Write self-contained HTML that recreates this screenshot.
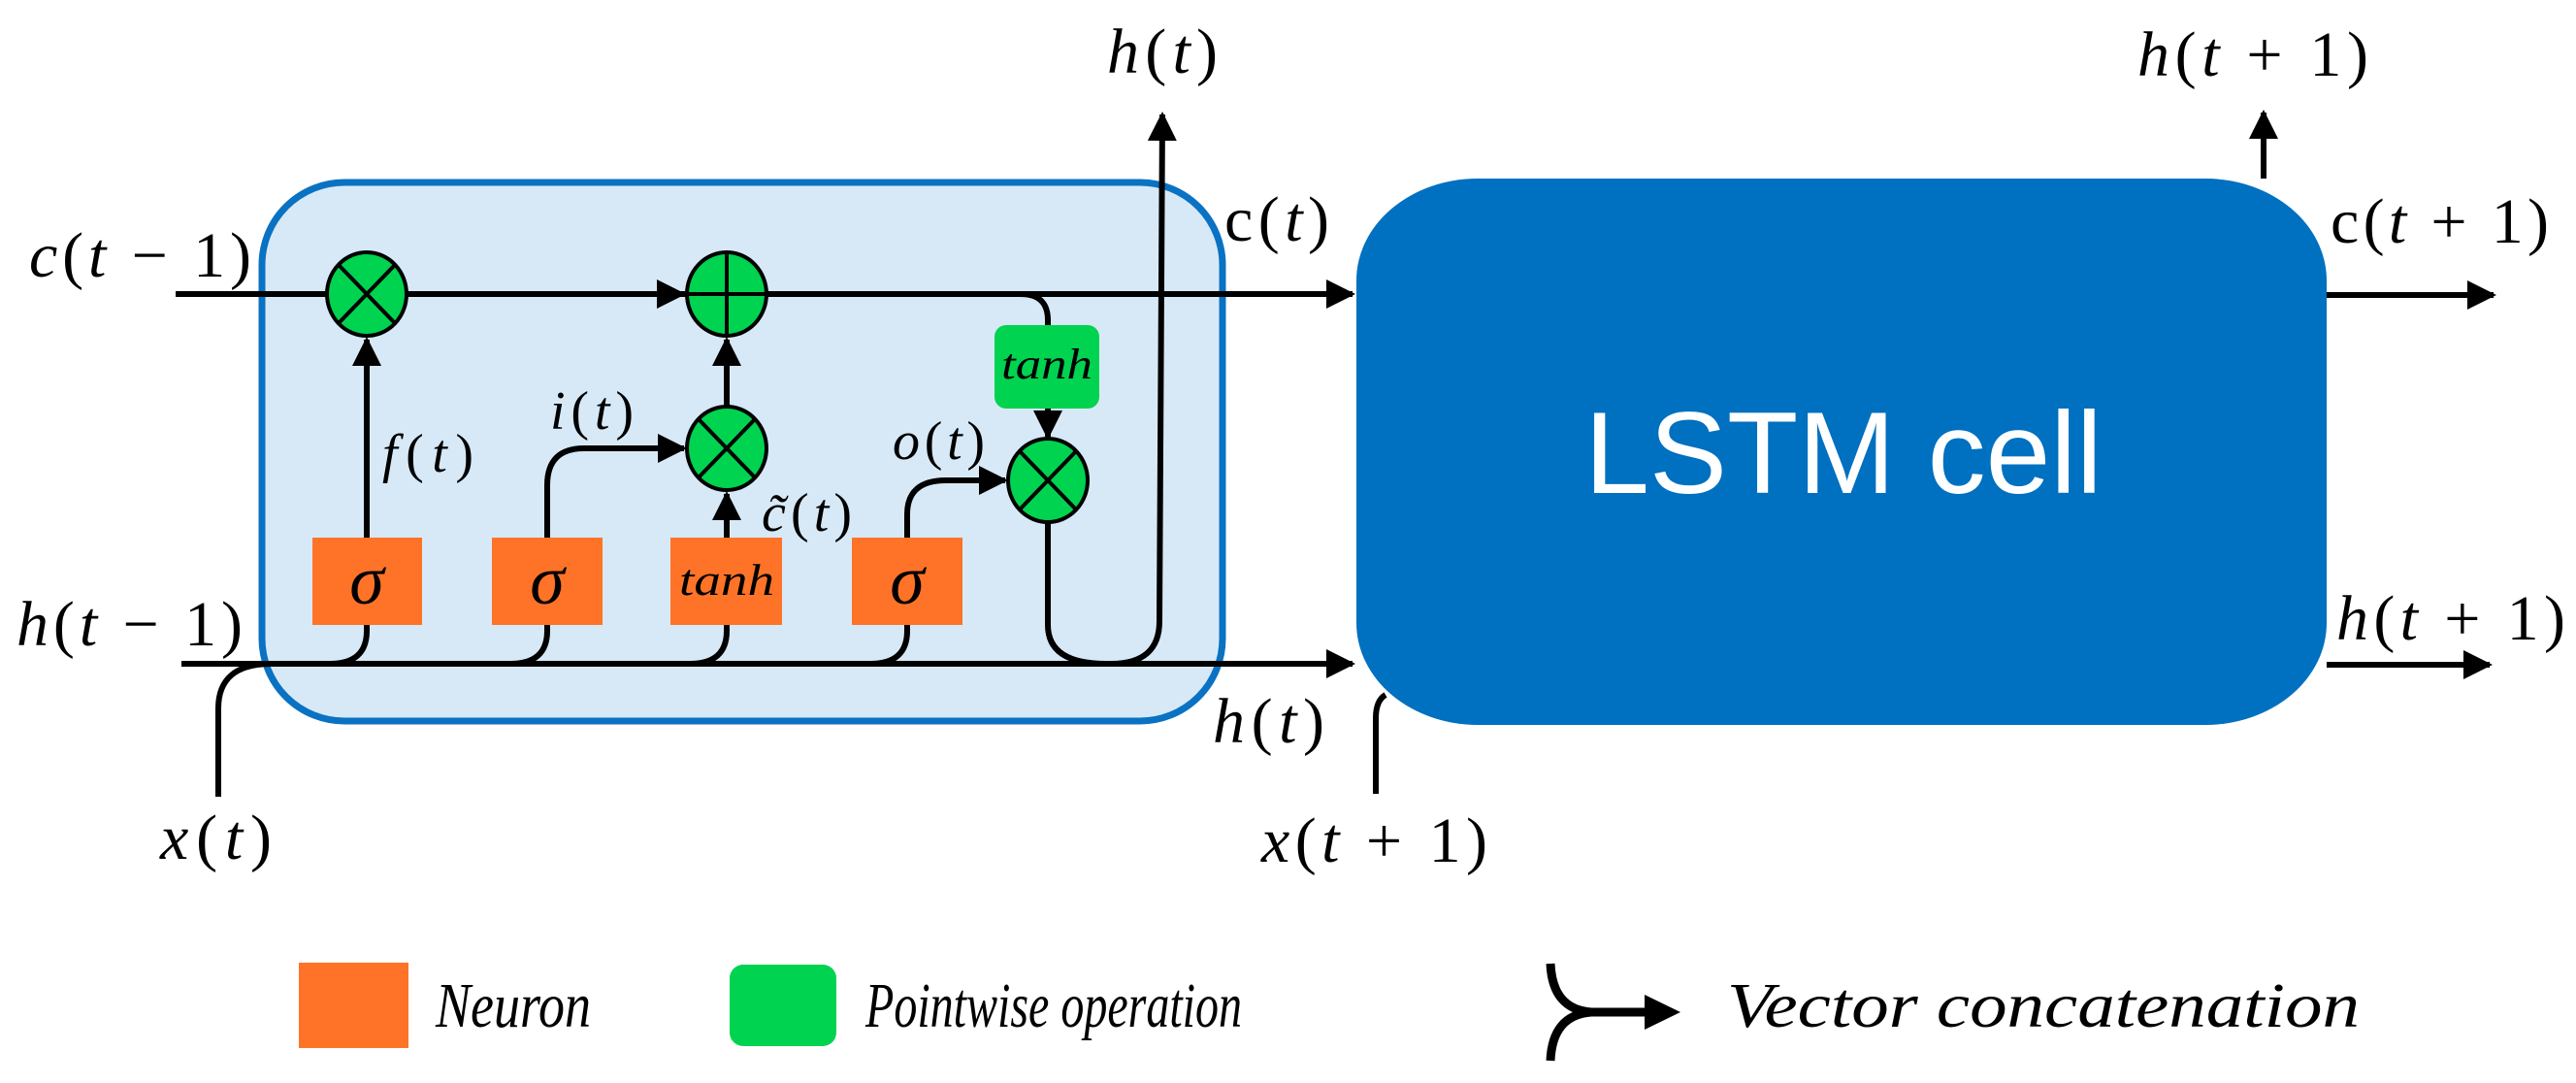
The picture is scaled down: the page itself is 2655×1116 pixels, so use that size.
<!DOCTYPE html>
<html><head><meta charset="utf-8"><style>
html,body{margin:0;padding:0;background:#fff;width:2655px;height:1116px;overflow:hidden}
svg{display:block}
text{font-family:"Liberation Serif",serif;fill:#000}
.m{font-style:italic;font-size:66px}
.u{font-style:normal}
</style></head><body>
<svg width="2655" height="1116" viewBox="0 0 2655 1116" xmlns="http://www.w3.org/2000/svg">
<defs>
<marker id="a" markerWidth="5" markerHeight="5" refX="4.5" refY="2.5" orient="auto" markerUnits="strokeWidth">
<path d="M0,0 L5,2.5 L0,5 z" fill="#000"/></marker>
</defs>
<rect x="270" y="188" width="990" height="555" rx="85" ry="85" fill="#D7E9F7" stroke="#0A72C2" stroke-width="7"/>
<rect x="1398" y="184" width="1000" height="563" rx="125" ry="105" fill="#0070C0"/>
<text x="1900" y="508" text-anchor="middle" style="font-family:'Liberation Sans',sans-serif;font-size:120px;fill:#fff">LSTM cell</text>

<g fill="none" stroke="#000" stroke-width="6">
<path d="M181,303 L704,303" marker-end="url(#a)"/>
<path d="M704,303 L1394,303" marker-end="url(#a)"/>
<path d="M1052,303 Q1080,303 1080,330 L1080,335"/>
<path d="M2398,304 L2570,304" marker-end="url(#a)"/>
<path d="M187,684 L1394,684" marker-end="url(#a)"/>
<path d="M2398,685 L2566,685" marker-end="url(#a)"/>
<path d="M225,821 L225,730 Q225,684 280,684"/>
<path d="M1418,818 L1418,740 Q1418,722 1428,716"/>
<path d="M378,644 L378,650 Q378,684 340,684"/>
<path d="M564,644 L564,650 Q564,684 526,684"/>
<path d="M749,644 L749,650 Q749,684 711,684"/>
<path d="M935,644 L935,650 Q935,684 897,684"/>
<path d="M378,554 L378,350" marker-end="url(#a)"/>
<path d="M564,554 L564,500 Q564,462 602,462 L705,462" marker-end="url(#a)"/>
<path d="M749,554 L749,509" marker-end="url(#a)"/>
<path d="M749,420 L749,350" marker-end="url(#a)"/>
<path d="M935,554 L935,530 Q935,495 975,495 L1036,495" marker-end="url(#a)"/>
<path d="M1080,421 L1080,450" marker-end="url(#a)"/>
<path d="M1080,538 L1080,644 Q1080,684 1140,684"/>
<path d="M1145,684 Q1195,684 1195,640 L1198,118" marker-end="url(#a)"/>
<path d="M2333,184 L2333,116" marker-end="url(#a)"/>
</g>

<g fill="#FF7328">
<rect x="322" y="554" width="113" height="90"/>
<rect x="507" y="554" width="114" height="90"/>
<rect x="691" y="554" width="115" height="90"/>
<rect x="878" y="554" width="114" height="90"/>
<rect x="308" y="992" width="113" height="88"/>
</g>
<g fill="#00D34F">
<rect x="1025" y="335" width="108" height="86" rx="12"/>
<rect x="752" y="994" width="110" height="84" rx="14"/>
</g>
<text x="378" y="622" text-anchor="middle" style="font-style:italic;font-size:72px">σ</text>
<text x="564" y="622" text-anchor="middle" style="font-style:italic;font-size:72px">σ</text>
<text x="935" y="622" text-anchor="middle" style="font-style:italic;font-size:72px">σ</text>
<text x="749" y="613" text-anchor="middle" style="font-style:italic;font-size:46px" textLength="98" lengthAdjust="spacingAndGlyphs">tanh</text>
<text x="1079" y="390" text-anchor="middle" style="font-style:italic;font-size:44px" textLength="94" lengthAdjust="spacingAndGlyphs">tanh</text>

<g stroke="#000" stroke-width="4" fill="#00D34F">
<ellipse cx="378" cy="303" rx="41" ry="43"/>
<ellipse cx="749" cy="303" rx="41" ry="43"/>
<ellipse cx="749" cy="462" rx="41" ry="43"/>
<ellipse cx="1080" cy="495" rx="41" ry="43"/>
</g>
<g stroke="#000" stroke-width="4">
<path d="M349,273 L407,333 M407,273 L349,333"/>
<path d="M749,260 L749,346 M708,303 L790,303"/>
<path d="M720,432 L778,492 M778,432 L720,492"/>
<path d="M1051,465 L1109,525 M1109,465 L1051,525"/>
</g>

<g class="m">
<text x="30" y="285" textLength="229">c<tspan class="u">(</tspan>t <tspan class="u">− 1)</tspan></text>
<text x="17" y="665" textLength="233">h<tspan class="u">(</tspan>t <tspan class="u">− 1)</tspan></text>
<text x="165" y="885" textLength="115">x<tspan class="u">(</tspan>t<tspan class="u">)</tspan></text>
<text x="1141" y="75" textLength="114">h<tspan class="u">(</tspan>t<tspan class="u">)</tspan></text>
<text x="1262" y="248" textLength="108"><tspan class="u">c(</tspan>t<tspan class="u">)</tspan></text>
<text x="1250" y="765" textLength="115">h<tspan class="u">(</tspan>t<tspan class="u">)</tspan></text>
<text x="1300" y="888" textLength="233">x<tspan class="u">(</tspan>t <tspan class="u">+ 1)</tspan></text>
<text x="2203" y="78" textLength="238">h<tspan class="u">(</tspan>t <tspan class="u">+ 1)</tspan></text>
<text x="2402" y="250" textLength="225"><tspan class="u">c(</tspan>t <tspan class="u">+ 1)</tspan></text>
<text x="2408" y="659" textLength="236">h<tspan class="u">(</tspan>t <tspan class="u">+ 1)</tspan></text>
</g>
<g style="font-style:italic;font-size:56px">
<text x="394" y="486" textLength="94">f<tspan class="u">(</tspan>t<tspan class="u">)</tspan></text>
<text x="567" y="442" textLength="86">i<tspan class="u">(</tspan>t<tspan class="u">)</tspan></text>
<text x="920" y="473" textLength="95">o<tspan class="u">(</tspan>t<tspan class="u">)</tspan></text>
<text x="785" y="547" textLength="93">c̃<tspan class="u">(</tspan>t<tspan class="u">)</tspan></text>
</g>

<g style="font-style:italic;font-size:66px">
<text x="449" y="1058" textLength="160" lengthAdjust="spacingAndGlyphs">Neuron</text>
<text x="892" y="1058" textLength="388" lengthAdjust="spacingAndGlyphs">Pointwise operation</text>
<text x="1780" y="1058" textLength="652" lengthAdjust="spacingAndGlyphs">Vector concatenation</text>
</g>
<g fill="none" stroke="#000" stroke-width="9">
<path d="M1598,993 Q1600,1040 1640,1043 L1700,1043"/>
<path d="M1598,1093 Q1600,1046 1640,1043"/>
</g>
<path d="M1695,1025 L1732,1043 L1695,1061 z" fill="#000"/>
</svg>
</body></html>
